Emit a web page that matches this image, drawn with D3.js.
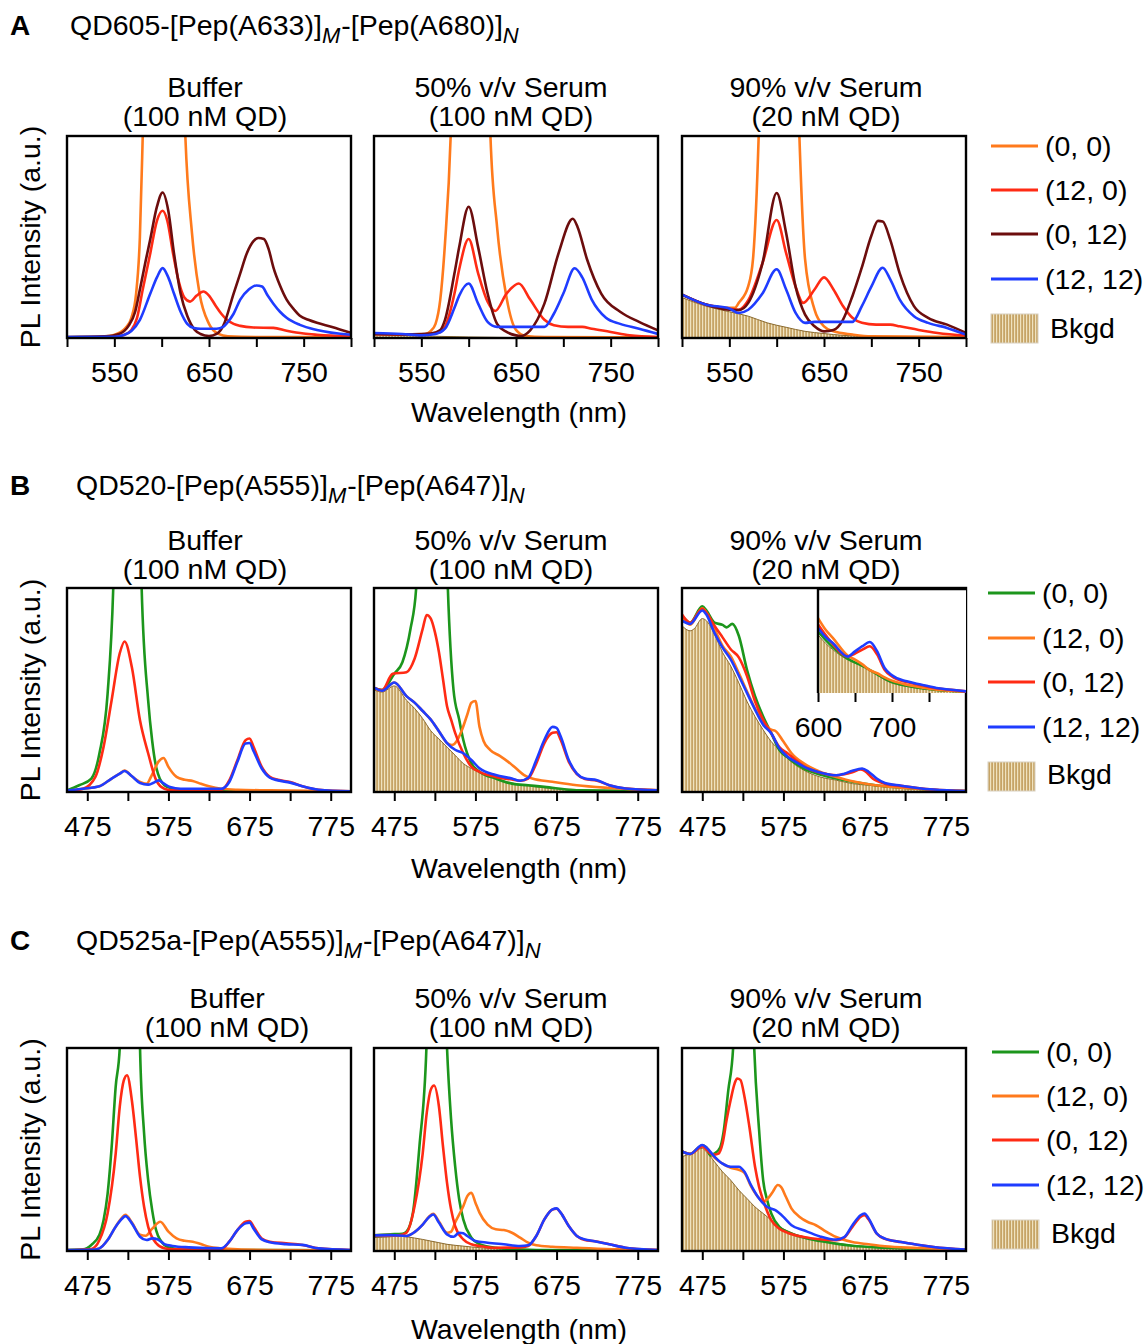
<!DOCTYPE html>
<html>
<head>
<meta charset="utf-8">
<script src="https://cdn.jsdelivr.net/npm/d3@7"></script>
<style>
  body { margin: 0; background: #fff; }
  svg { display: block; }
</style>
</head>
<body>
<div id="chart"></div>
<script>
// ---- data: [wavelength nm, intensity % of plot height] ----
// Row A : QD605 (domain 500-800)
const aBuf_00   = [[500,0.3],[530,0.5],[545,1],[555,2.5],[562,5],[568,10],[573,22],[577,50],[580,100],[585,200],[595,380],[603,430],[612,360],[620,180],[625,100],[632,52],[640,22],[650,7],[660,2],[670,0.8],[700,0.5],[800,0.4]];
const aBuf_120  = [[500,0.3],[550,0.6],[560,1.5],[568,4],[574,10],[580,24],[588,42],[595,58],[601,63],[606,58],[612,42],[618,28],[624,20],[630,18],[637,21],[644,23],[650,21],[657,16],[663,12],[669,9],[676,7],[683,6],[697,5.2],[718,5],[732,3.6],[750,2.2],[764,1.6],[800,0.8]];
const aBuf_012  = [[500,0.5],[540,0.8],[555,2],[565,6],[572,13],[577,24],[583,38],[588,49],[595,65],[601,72],[607,63],[613,42],[620,22],[627,11],[635,4],[641,2],[650,1],[658,2],[665,6],[676,22],[683,32],[690,42],[697,48],[702,49.5],[708,49],[713,44],[718,35],[725,26],[732,19],[740,14],[746,11],[755,9],[764,7.5],[780,5.5],[800,2.5]];
const aBuf_1212 = [[500,0.5],[550,0.6],[560,1.5],[568,3.5],[577,9],[588,22],[595,30],[601,34.6],[607,30],[613,22],[620,13],[627,7],[634,5],[641,4.6],[658,4.6],[665,5.5],[669,7.4],[676,12],[683,19],[692,24],[700,26],[706,25.5],[712,21],[718,17],[725,13],[732,10],[746,6.5],[764,4],[800,1.6]];

const aS50_bk   = [[500,1.5],[550,1],[600,0.5],[650,0.2],[700,0.1],[800,0]];
const aS50_00   = [[500,2],[530,1.8],[550,1.5],[560,3.5],[565,7],[570,19],[575,47],[581,100],[590,300],[602,400],[614,300],[623,100],[630,55],[640,20],[650,4],[660,1],[680,0.5],[800,0.3]];
const aS50_120  = [[500,2],[540,1.8],[560,2],[570,3],[575,5.5],[585,22],[590,34],[600,49],[610,32],[620,18],[628,13.4],[640,22],[653,27],[665,19],[680,9],[690,6.3],[705,5.5],[720,5.5],[730,4.6],[750,3],[770,1.3],[800,0.5]];
const aS50_012  = [[500,2],[540,1.8],[560,2.2],[570,4],[575,9],[585,32],[590,45],[600,65],[610,45],[620,22],[630,7],[640,3],[650,1.3],[655,1],[665,3.8],[680,17],[695,42],[710,59],[715,55],[725,39],[740,22],[760,13],[780,8],[800,3.8]];
const aS50_1212 = [[500,2.5],[530,2],[550,1.3],[565,2],[575,4.6],[585,15],[590,21],[600,27],[610,17],[620,8],[630,5.5],[645,5.5],[680,5.5],[690,12],[700,22],[712,34.5],[720,30],[730,19],[745,10],[760,7],[780,4.6],[800,2]];

const aS90_bk   = [[500,20],[525,15.8],[550,13],[570,10.8],[590,7.5],[610,5.3],[630,3.3],[650,2.2],[670,1.3],[700,0.8],[750,0.5],[800,0.3]];
const aS90_00   = [[500,21.5],[525,16.6],[550,15],[556,15],[560,17.4],[570,25.7],[575,39],[581,100],[590,300],[602,400],[614,300],[624,100],[630,39],[640,14],[650,5.8],[660,3.3],[680,1.7],[700,0.8],[800,0.5]];
const aS90_120  = [[500,21.5],[525,16.6],[550,14.5],[560,14],[570,18.7],[585,37],[600,58.4],[610,42],[620,25.4],[628,17.4],[640,24],[650,30],[660,24],[670,15.8],[680,10],[690,7.5],[705,6.6],[720,6.6],[730,5.8],[750,4],[770,2.5],[800,1.2]];
const aS90_012  = [[500,21.5],[525,16.6],[550,14],[560,13.8],[570,17.4],[585,37],[600,71.8],[610,52],[620,25.4],[630,11.6],[640,5.8],[650,3.3],[660,4],[670,9],[680,20.7],[690,35],[700,50.6],[707,58],[712,57.7],[720,48.6],[730,32],[745,15.8],[760,10],[780,6.6],[800,2.5]];
const aS90_1212 = [[500,21.5],[525,16.6],[550,14.6],[560,12.4],[570,14],[585,22],[600,34],[610,24],[620,12.4],[630,7.5],[640,8],[680,8],[690,15.8],[700,25.4],[712,34.8],[720,29],[730,19],[745,10.8],[760,7.5],[780,5],[800,1.7]];

// Row B : QD520 (domain 450-800)
const bBuf_00   = [[450,0.8],[465,3.3],[480,6.6],[490,19],[500,48],[507,100],[515,250],[525,300],[535,250],[542,100],[550,45],[555,25],[560,12],[570,3.3],[580,1.6],[600,0.8],[650,0.3],[800,0.3]];
const bBuf_120  = [[450,0.5],[470,1.6],[490,2.8],[505,6.6],[515,9],[521,10.5],[530,7.7],[540,4.9],[548,4],[555,8.7],[563,15],[569,16.7],[575,12.3],[585,7.4],[595,6],[605,5.4],[615,4],[625,2.8],[640,1.6],[660,1.1],[700,0.8],[800,0.3]];
const bBuf_012  = [[450,0.3],[470,1.6],[485,7.4],[495,22],[505,45],[515,68],[521,73.8],[530,61],[540,35],[550,19],[560,5.7],[570,1.6],[580,0.8],[640,1],[650,5.7],[660,15.6],[670,25.4],[675,26.2],[680,22],[690,12.3],[700,7.4],[710,6],[725,4.9],[740,2.8],[760,1.1],[800,0.3]];
const bBuf_1212 = [[450,0.8],[470,1.6],[490,2.8],[505,6.6],[515,9],[521,10.3],[530,7.7],[540,4.4],[550,3.6],[556,4.4],[563,5.7],[570,4],[577,2.4],[590,1.6],[640,1.6],[650,4.9],[660,14.8],[670,23.8],[675,24],[680,20],[690,11.5],[700,7],[710,5.7],[725,4.6],[740,2.8],[760,1.1],[800,0.3]];

const bS50_bk   = [[450,50],[460,49],[475,52],[490,45],[500,41],[510,36],[520,30],[530,26],[540,22],[550,18],[560,14],[570,11.5],[580,9.5],[600,6.5],[625,4],[650,2.5],[700,1.2],[750,0.5],[800,0.2]];
const bS50_00   = [[450,51],[460,50],[475,58],[485,63.6],[495,80],[502,100],[512,250],[522,300],[532,250],[541,100],[548,50],[555,35.5],[560,25.6],[570,14],[580,9.9],[600,6.6],[620,4.1],[640,3.3],[660,2.5],[700,0.8],[800,0.5]];
const bS50_120  = [[450,51],[460,49.6],[475,53.7],[490,47],[500,43.8],[510,39.7],[520,35.5],[530,29.8],[540,24],[546,23],[552,25],[558,30],[565,38],[570,43.8],[575,44.6],[580,32],[585,25],[593,20.7],[605,17.7],[615,14.9],[625,11.6],[635,8.3],[645,6.6],[670,5],[700,3.3],[740,2],[800,0.8]];
const bS50_012  = [[450,51],[460,50],[473,57.9],[490,58.7],[500,65.3],[510,80],[515,86.8],[520,85],[525,78.5],[530,68.6],[535,55.4],[540,42],[545,35.5],[550,29],[560,19],[570,12.4],[580,9.9],[600,7.4],[620,6.1],[630,5.5],[640,6.6],[650,14],[660,24],[670,29],[675,29.3],[680,25.6],[690,14.9],[700,8.8],[710,6.4],[725,5.5],[740,3.3],[760,1.7],[800,0.8]];
const bS50_1212 = [[450,51.2],[460,49.6],[475,53.7],[490,47],[500,43.8],[510,39.7],[520,35.5],[530,29.8],[540,24],[550,20.7],[560,19],[570,15.7],[580,11.6],[600,8.3],[620,6.6],[630,5.5],[640,7],[650,15.7],[660,25.6],[670,31.9],[675,31.4],[680,27.3],[690,15.7],[700,9],[710,6.6],[725,5.8],[740,3.3],[760,1.7],[800,0.8]];

const bS90_bk   = [[450,81.5],[460,79],[465,80],[475,85],[480,84],[490,77.4],[500,68.4],[510,61.8],[520,53.5],[530,44.5],[540,37],[550,30.5],[560,24.7],[570,20.6],[580,16.5],[590,13.2],[600,10.7],[620,7.4],[640,5.8],[660,4.1],[680,3.3],[700,2.5],[730,1.6],[760,0.8],[800,0.5]];
const bS90_00   = [[450,86.5],[460,83],[475,91],[480,89],[490,83],[500,81.9],[505,80.7],[512,82.4],[520,76.6],[530,60],[540,47],[550,37],[560,28.8],[570,20.6],[580,17],[600,11.5],[620,8.6],[640,6.6],[660,5],[680,3.8],[700,2.8],[730,1.8],[760,1],[800,0.5]];
const bS90_120  = [[450,86],[460,82],[475,90],[480,88],[490,80],[500,71.6],[510,66.6],[520,58.3],[530,49.4],[540,41],[550,34.6],[560,30.5],[565,30],[575,24.7],[585,19],[600,14],[620,9.9],[640,7.4],[660,5.3],[680,3.8],[700,2.8],[730,1.8],[760,1],[800,0.5]];
const bS90_012  = [[450,87],[460,83],[475,89.8],[480,88],[490,81.5],[500,75.8],[510,70],[520,66],[530,57],[540,44.5],[550,35.4],[560,28.8],[570,22],[580,19],[590,15.7],[600,12.7],[620,9.4],[640,8.2],[650,8.7],[660,9.7],[670,11],[675,10.4],[685,6.6],[700,4.1],[720,3],[740,2],[760,1.2],[800,0.5]];
const bS90_1212 = [[450,84],[460,82.4],[475,89],[480,87],[490,78],[500,70.8],[510,65],[520,57],[530,48.6],[540,40.4],[550,33],[560,28.8],[570,21.4],[580,17.3],[590,14.8],[600,12.4],[620,9.6],[640,8.2],[650,9],[660,10.4],[672,11.5],[680,9.9],[690,6.6],[700,4.4],[720,3.1],[740,2],[760,1.2],[800,0.5]];

// inset of B / 90 % serum (domain 600-800)
const inset_bk   = [[600,56],[610,48],[620,41.7],[640,32],[650,28.8],[660,25.6],[680,17.6],[690,12.8],[700,9.6],[720,6.4],[740,4.2],[760,2.6],[780,1.8],[800,1.2]];
const inset_00   = [[600,59],[620,44],[640,33],[660,26],[680,18],[700,10.6],[720,7],[740,4.6],[760,3],[780,2],[800,1.2]];
const inset_120  = [[600,72],[610,61],[620,53],[640,36],[650,32],[660,27.5],[670,22],[680,19],[690,15],[700,11.9],[720,8],[740,5.4],[760,3.2],[780,2.2],[800,1]];
const inset_012  = [[600,66],[610,56],[620,47],[640,35],[650,38],[660,41.7],[670,45],[680,36.9],[690,22.4],[700,16],[720,10.5],[740,7.4],[760,4.5],[780,3],[800,1.6]];
const inset_1212 = [[600,62.5],[610,54],[620,48],[640,35],[650,40],[660,45],[670,49],[680,40],[690,24],[700,17],[720,11.2],[740,8],[760,4.8],[780,3.2],[800,1.6]];

// Row C : QD525a (domain 450-800)
const cBuf_00   = [[450,0.5],[470,0.8],[480,3],[490,8],[495,15],[500,28],[505,51],[510,81],[515,100],[522,250],[528,300],[535,250],[540,100],[545,58],[550,35],[555,20],[560,10],[570,3],[580,1.3],[600,0.5],[800,0.3]];
const cBuf_120  = [[450,0.5],[480,0.6],[490,1.3],[500,5.4],[510,12],[518,16.5],[522,17.8],[530,14],[540,8],[547,7.5],[555,11],[565,14.4],[575,9.5],[585,6.2],[595,5],[605,4.6],[615,3.4],[625,2.1],[640,1.3],[660,0.8],[700,0.5],[800,0.3]];
const cBuf_012  = [[450,0.3],[480,1],[490,5.4],[500,18.5],[510,48],[515,71],[520,84],[524,86.6],[530,74],[535,56],[540,36.5],[545,21.8],[550,12],[560,3.8],[570,1.3],[580,0.8],[640,0.8],[650,4.6],[660,10.3],[670,14.4],[675,14.8],[680,12],[690,6.2],[700,4.6],[720,3.8],[740,3],[760,1.3],[800,0.5]];
const cBuf_1212 = [[450,0.5],[480,0.6],[490,1.3],[500,5.4],[510,12],[518,16],[522,17.2],[530,13.6],[540,7],[548,5.4],[555,6.2],[562,5.7],[570,3.4],[580,2.5],[600,1.8],[640,1.3],[650,4.6],[660,10.3],[670,13.6],[675,14],[680,11],[690,5.7],[700,4.3],[720,3.4],[740,3],[760,1.3],[800,0.5]];

const cS50_bk   = [[450,6.6],[470,7],[480,7.4],[490,7],[500,6.4],[510,5.7],[520,4.9],[530,4.1],[540,3.3],[550,2.8],[570,2],[600,1.1],[650,0.7],[700,0.4],[800,0.2]];
const cS50_00   = [[450,7.7],[470,8.2],[485,8.5],[490,9.5],[498,18.9],[506,51.6],[514.6,100],[522,250],[530,250],[540,100],[545,64.8],[550,41.8],[555,25.4],[560,15.6],[570,6.6],[580,3.3],[600,1.6],[650,0.5],[800,0.3]];
const cS50_120  = [[450,7.7],[470,7.8],[490,7.4],[500,9.3],[510,13],[518,17],[523,18.3],[530,14.5],[540,9],[545,9.5],[550,14],[560,22],[565,27],[570,28.7],[575,23.8],[580,18.9],[590,13],[600,10.7],[610,10.3],[620,9],[630,6.6],[640,4.1],[650,2.8],[670,2.1],[700,1.6],[750,0.8],[800,0.5]];
const cS50_012  = [[450,7.7],[480,7.7],[490,9],[500,22],[510,48],[515,68],[520,79.5],[524,81.5],[530,71.3],[535,51.6],[540,33.6],[545,20.5],[550,12.3],[560,5.7],[570,3.3],[580,2.5],[600,1.6],[630,1.8],[640,2.5],[650,7.4],[660,15.6],[670,20.5],[675,20.8],[680,18.9],[690,12.3],[700,7.4],[710,5.4],[720,4.9],[740,3.3],[760,1.6],[780,0.8],[800,0.5]];
const cS50_1212 = [[450,7.7],[470,7.8],[490,7.4],[500,9.3],[510,13],[518,16.8],[523,18],[530,14],[540,8.2],[548,7],[555,9],[560,8.7],[565,7.4],[575,4.9],[590,4.1],[610,3.3],[630,2.5],[640,2.8],[650,7.4],[660,15.6],[670,20.5],[675,21],[680,18.9],[690,12.3],[700,7.4],[710,5.7],[720,4.9],[740,3.3],[760,1.6],[800,0.5]];

const cS90_bk   = [[450,46.5],[460,47.8],[475,50.6],[480,48.9],[490,44],[500,39],[510,34.9],[520,30],[530,25.9],[540,21.7],[550,18.5],[560,15.2],[570,11.9],[580,9.9],[600,6.9],[620,5.3],[640,4],[660,2.8],[700,1.6],[750,0.7],[800,0.3]];
const cS90_00   = [[450,49],[460,47.8],[475,52],[480,51],[485,47],[490,48],[497,51],[501,58],[507,79],[513,100],[520,250],[530,250],[539,100],[545,59.6],[550,34.9],[555,25],[560,18.5],[570,11.9],[580,9.4],[600,6.6],[620,4.9],[640,3.6],[660,2.6],[700,1.6],[800,0.5]];
const cS90_120  = [[450,49],[460,47.8],[475,52],[480,51],[490,46],[500,43],[510,41],[520,40],[527,38.5],[535,32],[545,26],[550,24.2],[555,25.5],[562,29.2],[568,32.5],[572,31.6],[578,26.7],[585,20.9],[595,16.8],[605,14.3],[615,12.7],[625,10.2],[640,6.9],[660,4.4],[680,3.3],[700,2.3],[740,1.5],[800,0.6]];
const cS90_012  = [[450,49],[460,47.8],[475,51.5],[480,50],[485,48],[490,47.5],[495,48],[500,53],[505,64.6],[510,74.5],[515,82.7],[518,85],[522,84.3],[527,76],[533,61.3],[540,41.5],[545,31.6],[550,25],[560,15.2],[570,11],[580,9],[600,6.9],[620,5.8],[640,5.3],[650,6.6],[660,11.9],[670,16.8],[675,17.6],[680,15.5],[690,8.6],[700,6],[720,4.4],[740,3.1],[760,2],[800,0.7]];
const cS90_1212 = [[450,49],[460,47.8],[475,52.2],[480,51],[490,46.5],[500,43],[510,41.5],[520,41.5],[527,39],[535,32.5],[545,25.9],[555,21.7],[565,20.1],[575,16.8],[585,12.7],[600,10.2],[620,7.2],[640,5.6],[650,6.9],[660,12.7],[670,17.6],[675,18.5],[680,16],[690,8.6],[700,6.1],[720,4.4],[740,3.1],[760,2],[800,0.7]];

// axis ticks
const ticksA = [500, 550, 600, 650, 700, 750, 800];
const labelsA = [550, 650, 750];
const ticksBC = [475, 525, 575, 625, 675, 725, 775];
const labelsBC = [475, 575, 675, 775];
const insetTicks = [600, 650, 700, 750];
const insetLabels = [600, 700];

const legendKeys = ["(0, 0)", "(12, 0)", "(0, 12)", "(12, 12)"];
const colorsA = ["#ff7a1c", "#ff2b14", "#6c0d0d", "#1f3cff"];
const colorsBC = ["#1c961c", "#ff7a1c", "#ff2b14", "#1f3cff"];

// ---- layout ----
const width = 1146, height = 1344;
const FONT = '"Liberation Sans", Arial, Helvetica, sans-serif';
const FS = 28.5;
const panelX = [67, 374, 682];
const panelW = 284;

const svg = d3.select("#chart").append("svg")
  .attr("width", width)
  .attr("height", height)
  .style("font-family", FONT);

const defs = svg.append("defs");
const pat = defs.append("pattern")
  .attr("id", "hatch")
  .attr("patternUnits", "userSpaceOnUse")
  .attr("width", 3)
  .attr("height", 10);
pat.append("rect").attr("width", 3).attr("height", 10).attr("fill", "#c6a466");
pat.append("rect").attr("x", 0).attr("width", 1.2).attr("height", 10).attr("fill", "#efe2bf");

let clipCount = 0;

function drawPanel(cfg) {
  const { x0, y0, w, h, domain, ticks, labels, series, colors, bkgd, axisLines } = cfg;
  const x = d3.scaleLinear().domain(domain).range([x0, x0 + w]);
  const y = d3.scaleLinear().domain([0, 100]).range([y0 + h, y0]);
  const g = svg.append("g");

  const id = "clip" + (clipCount++);
  defs.append("clipPath").attr("id", id)
    .append("rect").attr("x", x0).attr("y", y0).attr("width", w).attr("height", h);

  const plot = g.append("g").attr("clip-path", `url(#${id})`);

  if (bkgd) {
    const area = d3.area()
      .x(d => x(d[0]))
      .y0(y(0))
      .y1(d => y(d[1]))
      .curve(d3.curveMonotoneX);
    plot.append("path")
      .datum(bkgd)
      .attr("d", area)
      .attr("fill", "url(#hatch)");
    plot.append("path")
      .datum(bkgd)
      .attr("d", area.lineY1())
      .attr("fill", "none")
      .attr("stroke", "#8a6a2e")
      .attr("stroke-width", 1);
  }

  const line = d3.line()
    .x(d => x(d[0]))
    .y(d => y(d[1]))
    .curve(d3.curveMonotoneX);

  series.forEach((s, i) => {
    plot.append("path")
      .datum(s)
      .attr("d", line)
      .attr("fill", "none")
      .attr("stroke", colors[i])
      .attr("stroke-width", 2.6)
      .attr("stroke-linejoin", "round");
  });

  const axis = g.append("g")
    .attr("transform", `translate(0,${y0 + h})`)
    .call(d3.axisBottom(x)
      .tickValues(ticks)
      .tickSize(9)
      .tickPadding(15)
      .tickFormat(d => labels.includes(d) ? d : ""));
  axis.select(".domain").remove();
  axis.selectAll(".tick line").attr("stroke", "#000").attr("stroke-width", 2);
  axis.selectAll(".tick text")
    .attr("fill", "#000")
    .style("font-family", FONT)
    .style("font-size", FS + "px");

  if (axisLines === "inset") {
    g.append("path")
      .attr("d", `M${x0},${y0 + h} V${y0} H${x0 + w}`)
      .attr("fill", "none")
      .attr("stroke", "#000")
      .attr("stroke-width", 2.4);
  } else {
    g.append("rect")
      .attr("x", x0).attr("y", y0)
      .attr("width", w).attr("height", h)
      .attr("fill", "none")
      .attr("stroke", "#000")
      .attr("stroke-width", 2.4);
  }
  return g;
}

function drawTitle(cx, yBase, lines) {
  lines.forEach((t, i) => {
    svg.append("text")
      .attr("x", cx)
      .attr("y", yBase + i * 29)
      .attr("text-anchor", "middle")
      .style("font-size", FS + "px")
      .text(t);
  });
}

function drawHeader(letter, xText, yBase, parts) {
  svg.append("text")
    .attr("x", 10).attr("y", yBase)
    .style("font-size", "28px")
    .style("font-weight", "bold")
    .text(letter);
  const t = svg.append("text")
    .attr("x", xText).attr("y", yBase)
    .style("font-size", FS + "px");
  t.append("tspan").text(parts[0]);
  t.append("tspan").attr("dy", 8).style("font-size", "22px").style("font-style", "italic").text("M");
  t.append("tspan").attr("dy", -8).attr("dx", 1).text(parts[1]);
  t.append("tspan").attr("dy", 8).style("font-size", "22px").style("font-style", "italic").text("N");
}

function drawLegend(x0, ys, colors, bk) {
  legendKeys.forEach((k, i) => {
    svg.append("line")
      .attr("x1", x0).attr("x2", x0 + 47)
      .attr("y1", ys[i]).attr("y2", ys[i])
      .attr("stroke", colors[i])
      .attr("stroke-width", 3);
    svg.append("text")
      .attr("x", x0 + 54).attr("y", ys[i])
      .attr("dy", "0.36em")
      .style("font-size", FS + "px")
      .text(k);
  });
  svg.append("rect")
    .attr("x", x0).attr("y", bk.y)
    .attr("width", 47).attr("height", 29)
    .attr("fill", "url(#hatch)")
    .attr("stroke", "#d8d0c0")
    .attr("stroke-width", 1);
  svg.append("text")
    .attr("x", x0 + 59).attr("y", bk.base)
    .style("font-size", FS + "px")
    .text("Bkgd");
}

function drawYLabel(cy) {
  svg.append("text")
    .attr("transform", `translate(40,${cy}) rotate(-90)`)
    .attr("text-anchor", "middle")
    .style("font-size", FS + "px")
    .text("PL Intensity (a.u.)");
}

function drawXLabel(yBase) {
  svg.append("text")
    .attr("x", 519).attr("y", yBase)
    .attr("text-anchor", "middle")
    .style("font-size", FS + "px")
    .text("Wavelength (nm)");
}

// ---- rows ----
const rows = [
  {
    y0: 136, h: 202, domain: [500, 800], ticks: ticksA, labels: labelsA, colors: colorsA,
    panels: [
      { series: [aBuf_00, aBuf_120, aBuf_012, aBuf_1212], bkgd: null },
      { series: [aS50_00, aS50_120, aS50_012, aS50_1212], bkgd: aS50_bk },
      { series: [aS90_00, aS90_120, aS90_012, aS90_1212], bkgd: aS90_bk }
    ],
    titles: [[205, ["Buffer", "(100 nM QD)"]], [511, ["50% v/v Serum", "(100 nM QD)"]], [826, ["90% v/v Serum", "(20 nM QD)"]]],
    titleBase: 97, xLabelBase: 422,
    header: ["A", 70, 35, ["QD605-[Pep(A633)]", "-[Pep(A680)]"]],
    legend: [991, [146, 190, 234, 279], { y: 314, base: 338 }]
  },
  {
    y0: 588, h: 204, domain: [450, 800], ticks: ticksBC, labels: labelsBC, colors: colorsBC,
    panels: [
      { series: [bBuf_00, bBuf_120, bBuf_012, bBuf_1212], bkgd: null },
      { series: [bS50_00, bS50_120, bS50_012, bS50_1212], bkgd: bS50_bk },
      { series: [bS90_00, bS90_120, bS90_012, bS90_1212], bkgd: bS90_bk }
    ],
    titles: [[205, ["Buffer", "(100 nM QD)"]], [511, ["50% v/v Serum", "(100 nM QD)"]], [826, ["90% v/v Serum", "(20 nM QD)"]]],
    titleBase: 550, xLabelBase: 878,
    header: ["B", 76, 495, ["QD520-[Pep(A555)]", "-[Pep(A647)]"]],
    legend: [988, [593, 638, 682, 727], { y: 762, base: 784 }]
  },
  {
    y0: 1048, h: 203, domain: [450, 800], ticks: ticksBC, labels: labelsBC, colors: colorsBC,
    panels: [
      { series: [cBuf_00, cBuf_120, cBuf_012, cBuf_1212], bkgd: null },
      { series: [cS50_00, cS50_120, cS50_012, cS50_1212], bkgd: cS50_bk },
      { series: [cS90_00, cS90_120, cS90_012, cS90_1212], bkgd: cS90_bk }
    ],
    titles: [[227, ["Buffer", "(100 nM QD)"]], [511, ["50% v/v Serum", "(100 nM QD)"]], [826, ["90% v/v Serum", "(20 nM QD)"]]],
    titleBase: 1008, xLabelBase: 1339,
    header: ["C", 76, 950, ["QD525a-[Pep(A555)]", "-[Pep(A647)]"]],
    legend: [992, [1052, 1096, 1140, 1185], { y: 1220, base: 1243 }]
  }
];

rows.forEach(r => {
  r.panels.forEach((p, i) => {
    drawPanel({
      x0: panelX[i], y0: r.y0, w: panelW, h: r.h,
      domain: r.domain, ticks: r.ticks, labels: r.labels,
      series: p.series, colors: r.colors, bkgd: p.bkgd
    });
  });
  r.titles.forEach(([cx, lines]) => drawTitle(cx, r.titleBase, lines));
  drawHeader(...r.header);
  drawLegend(r.legend[0], r.legend[1], r.colors, r.legend[2]);
  drawYLabel(r.y0 + r.h / 2);
  drawXLabel(r.xLabelBase);
});

// inset in row B, 90 % serum
svg.append("rect")
  .attr("x", 818).attr("y", 589)
  .attr("width", 148).attr("height", 104)
  .attr("fill", "#fff");
drawPanel({
  x0: 818, y0: 589, w: 148, h: 104,
  domain: [600, 800], ticks: insetTicks, labels: insetLabels,
  series: [inset_00, inset_120, inset_012, inset_1212],
  colors: colorsBC, bkgd: inset_bk, axisLines: "inset"
});
</script>
</body>
</html>
